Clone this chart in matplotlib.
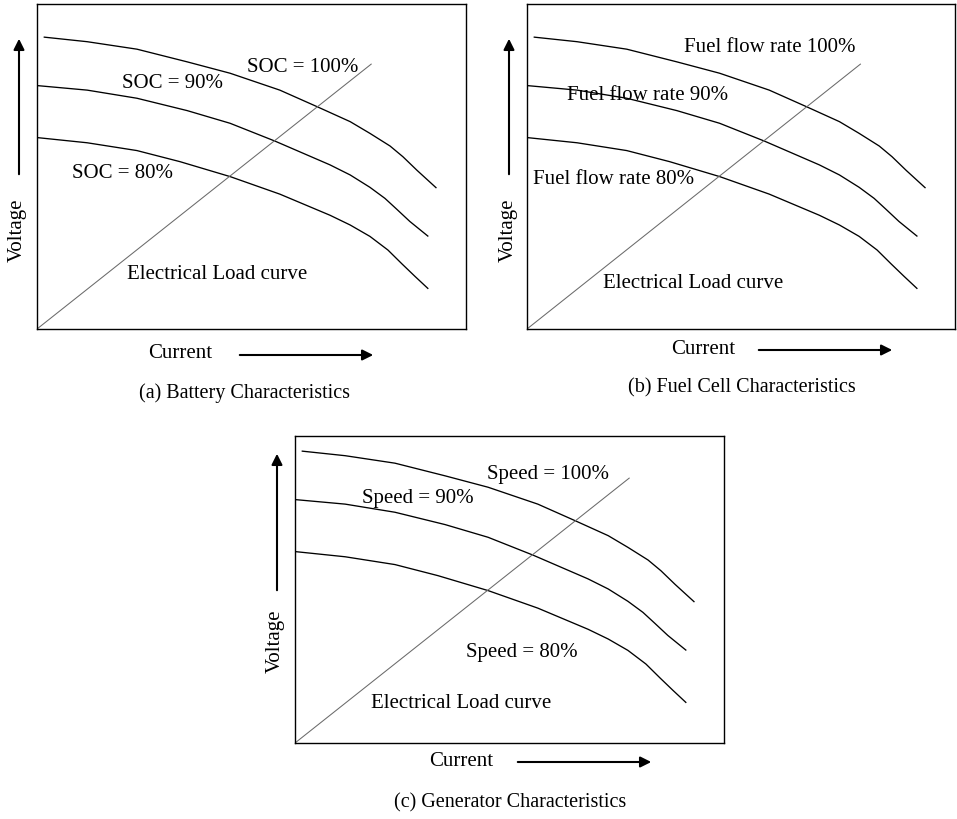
import matplotlib
matplotlib.use("Agg")
import matplotlib.pyplot as plt

plt.rcParams["font.family"] = ["Liberation Serif", "DejaVu Serif"]

W, H = 957, 819

# Characteristic curves (normalised current, normalised voltage)
x_high = [0.017, 0.117, 0.233, 0.350, 0.450, 0.566, 0.653, 0.730, 0.776, 0.823, 0.853, 0.886, 0.930]
y_high = [0.898, 0.884, 0.861, 0.822, 0.787, 0.735, 0.684, 0.638, 0.602, 0.563, 0.530, 0.488, 0.435]

x_mid = [0.000, 0.117, 0.233, 0.350, 0.450, 0.555, 0.683, 0.730, 0.776, 0.811, 0.839, 0.869, 0.911]
y_mid = [0.749, 0.735, 0.710, 0.672, 0.633, 0.578, 0.505, 0.474, 0.436, 0.402, 0.368, 0.331, 0.286]

x_low = [0.000, 0.117, 0.233, 0.333, 0.450, 0.566, 0.683, 0.730, 0.776, 0.818, 0.851, 0.881, 0.911]
y_low = [0.589, 0.573, 0.549, 0.515, 0.469, 0.415, 0.350, 0.320, 0.285, 0.243, 0.200, 0.162, 0.125]

# Electrical load line
x_load = [0.0, 0.779]
y_load = [0.0, 0.815]

battery_labels = ["SOC = 100%", "SOC = 90%", "SOC = 80%"]
fuelcell_labels = ["Fuel flow rate 100%", "Fuel flow rate 90%", "Fuel flow rate 80%"]
generator_labels = ["Speed = 100%", "Speed = 90%", "Speed = 80%"]
captions = ["(a) Battery Characteristics", "(b) Fuel Cell Characteristics",
            "(c) Generator Characteristics"]

FS = 15

fig = plt.figure(figsize=(W / 100, H / 100), dpi=100)


def frac(x, y):
    return x / W, 1 - y / H


def make_axes(left, right, top, bottom, ytop):
    ax = fig.add_axes([left / W, 1 - bottom / H, (right - left) / W, (bottom - top) / H])
    ax.set_xlim(0, 1)
    ax.set_ylim(0, ytop)
    ax.set_xticks([])
    ax.set_yticks([])
    for s in ax.spines.values():
        s.set_linewidth(1.0)
        s.set_color("black")
    for xs, ys in [(x_high, y_high), (x_mid, y_mid), (x_low, y_low)]:
        ax.plot(xs, ys, color="black", lw=0.95, solid_joinstyle="round")
    ax.plot(x_load, y_load, color="#6a6a6a", lw=0.75)
    return ax


def text(x, y, s, **kw):
    fig.text(*frac(x, y), s, fontsize=FS, va="center", **kw)


def arrow(x0, y0, x1, y1):
    fig.add_artist(matplotlib.patches.FancyArrowPatch(
        frac(x0, y0), frac(x1, y1), transform=fig.transFigure,
        arrowstyle="-|>", mutation_scale=16, lw=1.5, color="black"))


# (a) Battery
make_axes(37, 466, 4, 329, 1.0)
text(247, 68, battery_labels[0])
text(122, 84, battery_labels[1])
text(72, 174, battery_labels[2])
text(127, 275, "Electrical Load curve")
fig.text(*frac(17, 230), "Voltage", fontsize=FS, rotation=90, ha="center", va="center")
arrow(19, 177, 19, 36)
text(148, 354, "Current")
arrow(237, 355, 376, 355)
fig.text(*frac(245, 393), captions[0], fontsize=FS - 0.5, ha="center", va="center")

# (b) Fuel cell
make_axes(527, 955, 4, 329, 1.0)
text(684, 48, fuelcell_labels[0])
text(567, 95, fuelcell_labels[1])
text(533, 180, fuelcell_labels[2])
text(603, 284, "Electrical Load curve")
fig.text(*frac(508, 230), "Voltage", fontsize=FS, rotation=90, ha="center", va="center")
arrow(509, 177, 509, 36)
text(671, 349, "Current")
arrow(756, 350, 895, 350)
fig.text(*frac(742, 388), captions[1], fontsize=FS - 0.5, ha="center", va="center")

# (c) Generator
make_axes(295, 724, 436, 743, 307 / 325)
text(487, 474, generator_labels[0])
text(362, 499, generator_labels[1])
text(466, 652, generator_labels[2])
text(371, 704, "Electrical Load curve")
fig.text(*frac(275, 641), "Voltage", fontsize=FS, rotation=90, ha="center", va="center")
arrow(277, 593, 277, 451)
text(429, 761, "Current")
arrow(515, 762, 654, 762)
fig.text(*frac(510, 803), captions[2], fontsize=FS - 0.5, ha="center", va="center")

fig.savefig("out.png", dpi=100, facecolor="white")
